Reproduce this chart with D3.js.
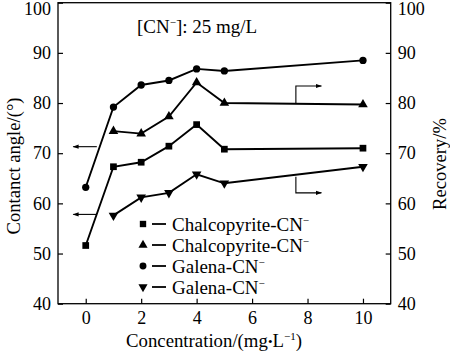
<!DOCTYPE html>
<html><head><meta charset="utf-8">
<script src="https://cdn.jsdelivr.net/npm/d3@7"></script>
<style>body{margin:0;background:#fff}svg{display:block}</style>
</head><body>
<svg id="c" width="450" height="356"></svg>
<script>
const xTicks = [0, 2, 4, 6, 8, 10];
const yTicks = [40, 50, 60, 70, 80, 90, 100];
const concSquare = [0, 1, 2, 3, 4, 5, 10];
const chalcoAngle = [51.6, 67.3, 68.2, 71.4, 75.7, 70.8, 71.0];
const concTriUp = [1, 2, 3, 4, 5, 10];
const chalcoRecovery = [74.4, 73.9, 77.3, 84.1, 80.0, 79.7];
const concCircle = [0, 1, 2, 3, 4, 5, 10];
const galenaAngle = [63.2, 79.2, 83.6, 84.5, 86.8, 86.4, 88.5];
const concTriDown = [1, 2, 3, 4, 5, 10];
const galenaRecovery = [57.6, 61.2, 62.1, 65.8, 64.0, 67.3];
const legendLabels = ["Chalcopyrite-CN", "Chalcopyrite-CN", "Galena-CN", "Galena-CN"];

const svg = d3.select("#c");
const font = "'Liberation Serif','Times New Roman',serif";
const L = 58, R = 390.7, T = 2.7, B = 303.7;
const x = d3.scaleLinear().domain([-1, 11]).range([L, R]);
const y = d3.scaleLinear().domain([40, 100]).range([B, T]);

// frame
svg.append("rect").attr("x", L).attr("y", T).attr("width", R - L).attr("height", B - T)
  .attr("fill", "none").attr("stroke", "#000").attr("stroke-width", 1.3);

// axes with inward ticks
const styleAxis = g => {
  g.select(".domain").remove();
  g.selectAll("line").attr("stroke", "#000").attr("stroke-width", 1.2);
  g.selectAll("text").attr("font-family", font).attr("font-size", 18).attr("fill", "#000");
  g.selectAll(".tick").filter(d => d === 100).select("text").attr("y", 6);
};
svg.append("g").attr("transform", `translate(${L},0)`)
  .call(d3.axisLeft(y).tickValues(yTicks).tickSizeInner(-5).tickSizeOuter(0).tickPadding(7))
  .call(styleAxis);
svg.append("g").attr("transform", `translate(${R},0)`)
  .call(d3.axisRight(y).tickValues(yTicks).tickSizeInner(-5).tickSizeOuter(0).tickPadding(7))
  .call(styleAxis);
svg.append("g").attr("transform", `translate(0,${B})`)
  .call(d3.axisBottom(x).tickValues(xTicks).tickSizeInner(-5).tickSizeOuter(0).tickPadding(8))
  .call(styleAxis);

// series
const series = [
  {xs: concSquare, ys: chalcoAngle, sym: d3.symbolSquare, size: 45, rot: 0},
  {xs: concTriUp, ys: chalcoRecovery, sym: d3.symbolTriangle, size: 40, rot: 0},
  {xs: concCircle, ys: galenaAngle, sym: d3.symbolCircle, size: 42, rot: 0},
  {xs: concTriDown, ys: galenaRecovery, sym: d3.symbolTriangle, size: 40, rot: 180},
];
const line = d3.line().x(d => x(d[0])).y(d => y(d[1]));
series.forEach(s => {
  const pts = s.xs.map((v, i) => [v, s.ys[i]]);
  svg.append("path").datum(pts).attr("d", line).attr("fill", "none")
    .attr("stroke", "#000").attr("stroke-width", 1.9);
  svg.append("g").selectAll("path").data(pts).join("path")
    .attr("d", d3.symbol(s.sym, s.size))
    .attr("transform", d => `translate(${x(d[0])},${y(d[1])}) rotate(${s.rot})`)
    .attr("fill", "#000");
});

// arrows
const defs = svg.append("defs");
defs.append("marker").attr("id", "ah").attr("viewBox", "0 0 10 10").attr("refX", 9).attr("refY", 5)
  .attr("markerWidth", 8).attr("markerHeight", 6).attr("markerUnits", "userSpaceOnUse").attr("orient", "auto")
  .append("path").attr("d", "M0,1.5 L10,5 L0,8.5 Z").attr("fill", "#000");
const leftArrows = [71.3, 57.8];
leftArrows.forEach(v => {
  svg.append("line").attr("x1", x(0.4)).attr("x2", x(-0.45)).attr("y1", y(v)).attr("y2", y(v))
    .attr("stroke", "#000").attr("stroke-width", 1.1).attr("marker-end", "url(#ah)");
});
const rightArrows = [[79.9, 83.4], [65.3, 62.1]];
rightArrows.forEach(([a, b]) => {
  svg.append("path").attr("d", `M${x(7.58)},${y(a)} V${y(b)} H${x(8.5)}`)
    .attr("fill", "none").attr("stroke", "#000").attr("stroke-width", 1.1).attr("marker-end", "url(#ah)");
});

// title
const t = svg.append("text").attr("x", 137).attr("y", 33).attr("font-family", font).attr("font-size", 19);
t.append("tspan").text("[CN");
t.append("tspan").text("−").attr("font-size", 11).attr("dy", -7);
t.append("tspan").text("]: 25 mg/L").attr("dy", 7);

// legend
const rowsY = [224, 245, 266, 287];
const lg = svg.append("g");
series.forEach((s, i) => {
  lg.append("path").attr("d", d3.symbol(s.sym, s.size * 0.9))
    .attr("transform", `translate(143,${rowsY[i]}) rotate(${s.rot})`).attr("fill", "#000");
  lg.append("line").attr("x1", 152).attr("x2", 166).attr("y1", rowsY[i]).attr("y2", rowsY[i])
    .attr("stroke", "#000").attr("stroke-width", 1.8);
  const tx = lg.append("text").attr("x", 172).attr("y", rowsY[i] + 6.5)
    .attr("font-family", font).attr("font-size", 19);
  tx.append("tspan").text(legendLabels[i]);
  tx.append("tspan").text("−").attr("font-size", 11).attr("dy", -7);
});

// axis titles
svg.append("text").attr("transform", "translate(20,166) rotate(-90)").attr("text-anchor", "middle")
  .attr("font-family", font).attr("font-size", 18.6).text("Contanct angle/(°)");
svg.append("text").attr("transform", "translate(446,164) rotate(-90)").attr("text-anchor", "middle")
  .attr("font-family", font).attr("font-size", 18.6).text("Recovery/%");
const xl = svg.append("text").attr("x", 126).attr("y", 347).attr("font-family", font).attr("font-size", 18.8);
xl.append("tspan").text("Concentration/(mg");
xl.append("tspan").text("•").attr("font-size", 13).attr("dy", -1);
xl.append("tspan").text("L").attr("dy", 1);
xl.append("tspan").text("−1").attr("font-size", 11).attr("dy", -7);
xl.append("tspan").text(")").attr("dy", 7);
</script>
</body></html>
